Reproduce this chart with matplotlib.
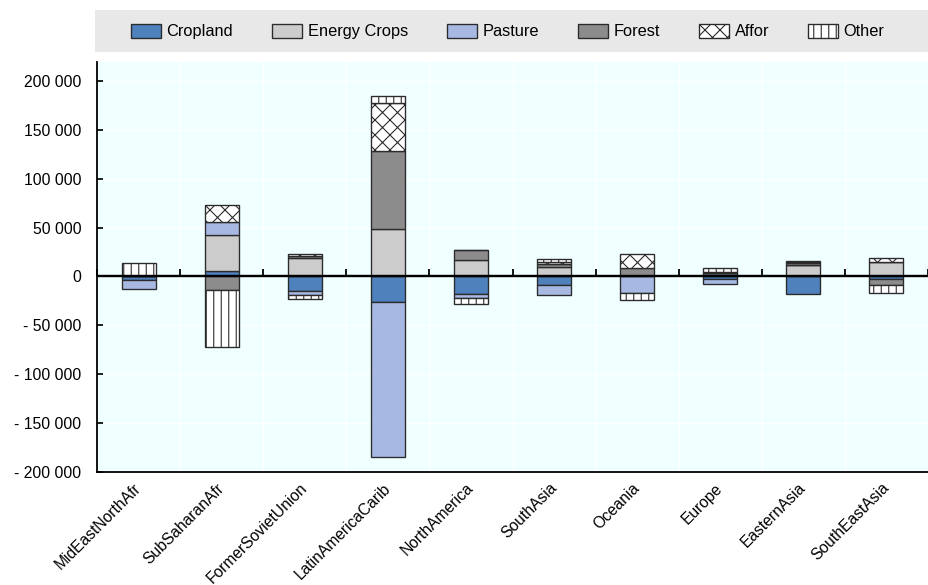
import numpy as np
import matplotlib
matplotlib.use("Agg")
import matplotlib.pyplot as plt
from matplotlib.patches import Rectangle
from matplotlib.ticker import FuncFormatter

categories = ['MidEastNorthAfr', 'SubSaharanAfr', 'FormerSovietUnion', 'LatinAmericaCarib',
              'NorthAmerica', 'SouthAsia', 'Oceania', 'Europe', 'EasternAsia', 'SouthEastAsia']
series_names = ['Cropland', 'Energy Crops', 'Pasture', 'Forest', 'Affor', 'Other']
cropland = [-3500, 5800, -15000, -26000, -17700, -9000, 0, -2700, -18100, -3000]
energy_crops = [0, 36400, 18400, 48000, 17000, 10000, 0, 1500, 11500, 14300]
pasture = [-9500, 13600, -4400, -159000, -4500, -10200, -17000, -5000, 0, 0]
forest = [0, -14000, 2400, 80000, 9500, 3000, 9000, 1500, 2000, -6000]
affor = [0, 17700, 2000, 50000, 0, 1500, 13700, 1500, 1500, 4000]
other = [14000, -58800, -3400, 6800, -5700, 3500, -7500, 4000, 1000, -7800]
y_ticks = [-200000, -150000, -100000, -50000, 0, 50000, 100000, 150000, 200000]

series = [cropland, energy_crops, pasture, forest, affor, other]
facecolors = ['#4F81BD', '#CCCCCC', '#A7B9E3', '#8C8C8C', 'white', 'white']
hatches = [None, None, None, None, 'xx', '||']

DPI = 90
def P(px):
    """pixels -> points at the chosen dpi"""
    return px * 72.0 / DPI

plt.rcParams['font.family'] = ['Liberation Sans', 'DejaVu Sans']
plt.rcParams['hatch.linewidth'] = P(1.1)
fig = plt.figure(figsize=(928 / DPI, 585 / DPI), dpi=DPI)
ax = fig.add_axes([97 / 928, 1 - 471.7 / 585, 1 - 97 / 928, (471.7 - 61.5) / 585])
ax.set_facecolor('#F0FFFF')

x = np.arange(len(categories))
bounds = np.arange(len(categories) + 1) - 0.5
pos_base = np.zeros(len(categories))
neg_base = np.zeros(len(categories))
handles = []
for vals, name, fc, h in zip(series, series_names, facecolors, hatches):
    v = np.array(vals, dtype=float)
    bottoms = np.where(v >= 0, pos_base, neg_base)
    bc = ax.bar(x, v, width=0.41, bottom=bottoms, color=fc, edgecolor='#2b2b2b',
                linewidth=P(1.35), hatch=h, label=name, zorder=3)
    handles.append(bc)
    pos_base = pos_base + np.where(v > 0, v, 0)
    neg_base = neg_base + np.where(v < 0, v, 0)

ax.set_xlim(-0.5, len(categories) - 0.5)
ax.set_ylim(-200000, 220000)
ax.set_yticks(y_ticks)

def fmt(v, pos):
    s = f"{abs(int(round(v))):,}".replace(',', ' ')
    return ('- ' + s) if v < 0 else s

ax.yaxis.set_major_formatter(FuncFormatter(fmt))
ax.tick_params(axis='y', direction='in', length=P(5.6), width=P(1.7), pad=P(15.6),
               labelsize=P(15.8))
ax.set_xticks(x)
ax.set_xticklabels(categories, rotation=45, ha='right', va='center', rotation_mode='anchor',
                   fontsize=P(15.6))
ax.tick_params(axis='x', length=0, pad=P(14))
ax.set_xticks(bounds, minor=True)
ax.tick_params(axis='x', which='minor', length=0)
ax.grid(True, which='minor', axis='x', color='white', linewidth=P(1.35), zorder=0)
ax.grid(True, which='major', axis='y', color='white', linewidth=P(1.35), zorder=0)
ax.set_axisbelow(True)

for s in ['top', 'right']:
    ax.spines[s].set_visible(False)
for s in ['left', 'bottom']:
    ax.spines[s].set_color('black')
    ax.spines[s].set_linewidth(P(1.8))

# zero line with small upward ticks at category boundaries
ax.axhline(0, color='black', linewidth=P(2.4), zorder=5)
ax.plot(bounds, np.zeros(len(bounds)), linestyle='none', marker=2, markersize=P(6.7),
        markeredgewidth=P(1.8), color='black', zorder=5, clip_on=False)

fig.add_artist(Rectangle((95 / 928, 1 - 52 / 585), 1 - 95 / 928, 42 / 585,
                         transform=fig.transFigure, facecolor='#E8E8E8', edgecolor='none', zorder=0))
fig.legend(handles=handles, labels=series_names, loc='center left',
           bbox_to_anchor=(131 / 928, 1 - 31.5 / 585), ncol=6, frameon=False,
           prop={'size': P(16.4)},
           handlelength=1.8, handleheight=0.95, handletextpad=0.35, columnspacing=2.4,
           borderaxespad=0, borderpad=0)

fig.savefig('out.png', dpi=DPI)
